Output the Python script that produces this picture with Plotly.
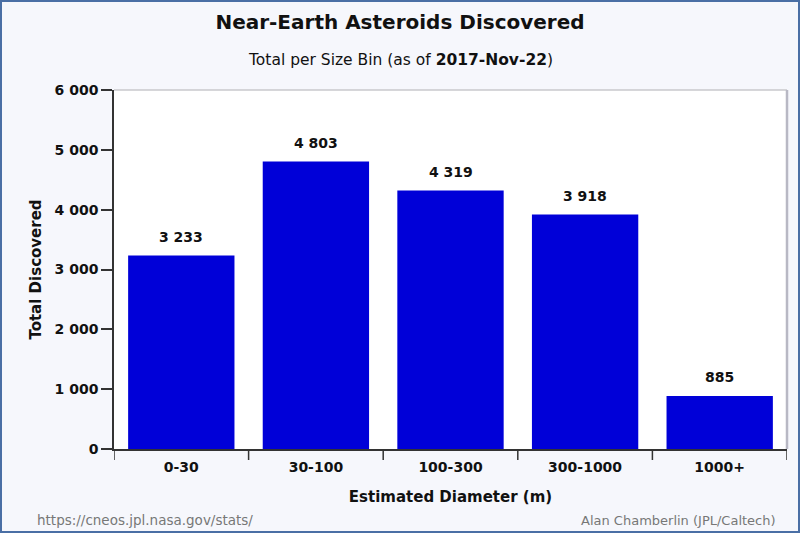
import plotly.graph_objects as go

categories = ["0-30", "30-100", "100-300", "300-1000", "1000+"]
values = [3233, 4803, 4319, 3918, 885]
y_ticks = [0, 1000, 2000, 3000, 4000, 5000, 6000]

FONT = "DejaVu Sans"
W, H = 800, 533
L, R, T, B = 114, 13, 90, 84
PH = H - T - B
PW = W - L - R

fig = go.Figure()
fig.add_trace(go.Bar(
    x=categories, y=values,
    marker=dict(color="#0000d8", line=dict(width=0)),
    width=0.79,
    hoverinfo="skip",
))

for c, v in zip(categories, values):
    fig.add_annotation(x=c, y=v, text=f"{v:,}".replace(",", " "),
                       showarrow=False, yanchor="middle", yshift=19,
                       font=dict(family=FONT, size=14, color="#111111", weight="bold"))

fig.update_layout(
    width=W, height=H,
    margin=dict(l=L, r=R, t=T, b=B),
    paper_bgcolor="#f6f7fc",
    plot_bgcolor="#ffffff",
    separators=". ",
    showlegend=False,
    font=dict(family=FONT, color="#111111"),
    title=dict(
        text="Near-Earth Asteroids Discovered",
        x=0.5, xref="container", xanchor="center",
        y=1 - 22 / H, yref="container", yanchor="middle",
        font=dict(family=FONT, size=20, color="#111111", weight="bold"),
    ),
    xaxis=dict(
        showgrid=False, showline=True, linecolor="#333333", linewidth=1.5,
        ticks="", ticklabelstandoff=4,
        tickfont=dict(family=FONT, size=14, color="#111111", weight="bold"),
        title=dict(text="Estimated Diameter (m)",
                   font=dict(family=FONT, size=15, color="#111111", weight="bold"), standoff=18),
        fixedrange=True,
    ),
    yaxis=dict(
        range=[0, 6000], tickvals=y_ticks,
        tickformat=",d",
        showgrid=False, zeroline=False,
        showline=True, linecolor="#333333", linewidth=1.5,
        ticks="outside", ticklen=11, tickcolor="#333333", tickwidth=1.5,
        tickfont=dict(family=FONT, size=14, color="#111111", weight="bold"),
        title=dict(text="Total Discovered",
                   font=dict(family=FONT, size=15, color="#111111", weight="bold"), standoff=9),
        fixedrange=True,
    ),
)

# category boundary ticks on the x axis
n = len(categories)
for i in range(n + 1):
    fig.add_shape(type="line", xref="x", yref="paper",
                  x0=i - 0.5, x1=i - 0.5, y0=0, y1=-11 / PH,
                  line=dict(color="#333333", width=1.5))
fig.update_xaxes(range=[-0.5, n - 0.5])

# light frame top/right of plot area
fig.add_shape(type="line", xref="paper", yref="paper", x0=0, x1=1, y0=1, y1=1,
              line=dict(color="#c8c8cc", width=1.5))
fig.add_shape(type="line", xref="paper", yref="paper", x0=1, x1=1, y0=0, y1=1,
              line=dict(color="#b8b8c4", width=2.5))

# outer border
fig.add_shape(type="rect", xref="paper", yref="paper",
              x0=-L / PW, x1=1 + R / PW,
              y0=-B / PH, y1=1 + T / PH,
              line=dict(color="#4a6fa5", width=4), layer="above")

# subtitle
fig.add_annotation(text="Total per Size Bin (as of <b>2017-Nov-22</b>)",
                   xref="paper", yref="paper", x=(400 - L) / PW,
                   y=1 + (T - 60) / PH, xanchor="center", yanchor="middle",
                   showarrow=False, font=dict(family=FONT, size=15.5, color="#111111"))
# footers
fig.add_annotation(text="https://cneos.jpl.nasa.gov/stats/",
                   xref="paper", yref="paper", x=(35 - L) / PW,
                   y=-(520 - (H - B)) / PH, xanchor="left", yanchor="middle",
                   showarrow=False, font=dict(family=FONT, size=13.5, color="#777777"))
fig.add_annotation(text="Alan Chamberlin (JPL/Caltech)",
                   xref="paper", yref="paper", x=(778 - L) / PW,
                   y=-(520 - (H - B)) / PH, xanchor="right", yanchor="middle",
                   showarrow=False, font=dict(family=FONT, size=13, color="#777777"))

fig.write_html("out.html", config={"displayModeBar": False},
               post_script="document.body.style.margin='0';document.body.style.overflow='hidden';")
